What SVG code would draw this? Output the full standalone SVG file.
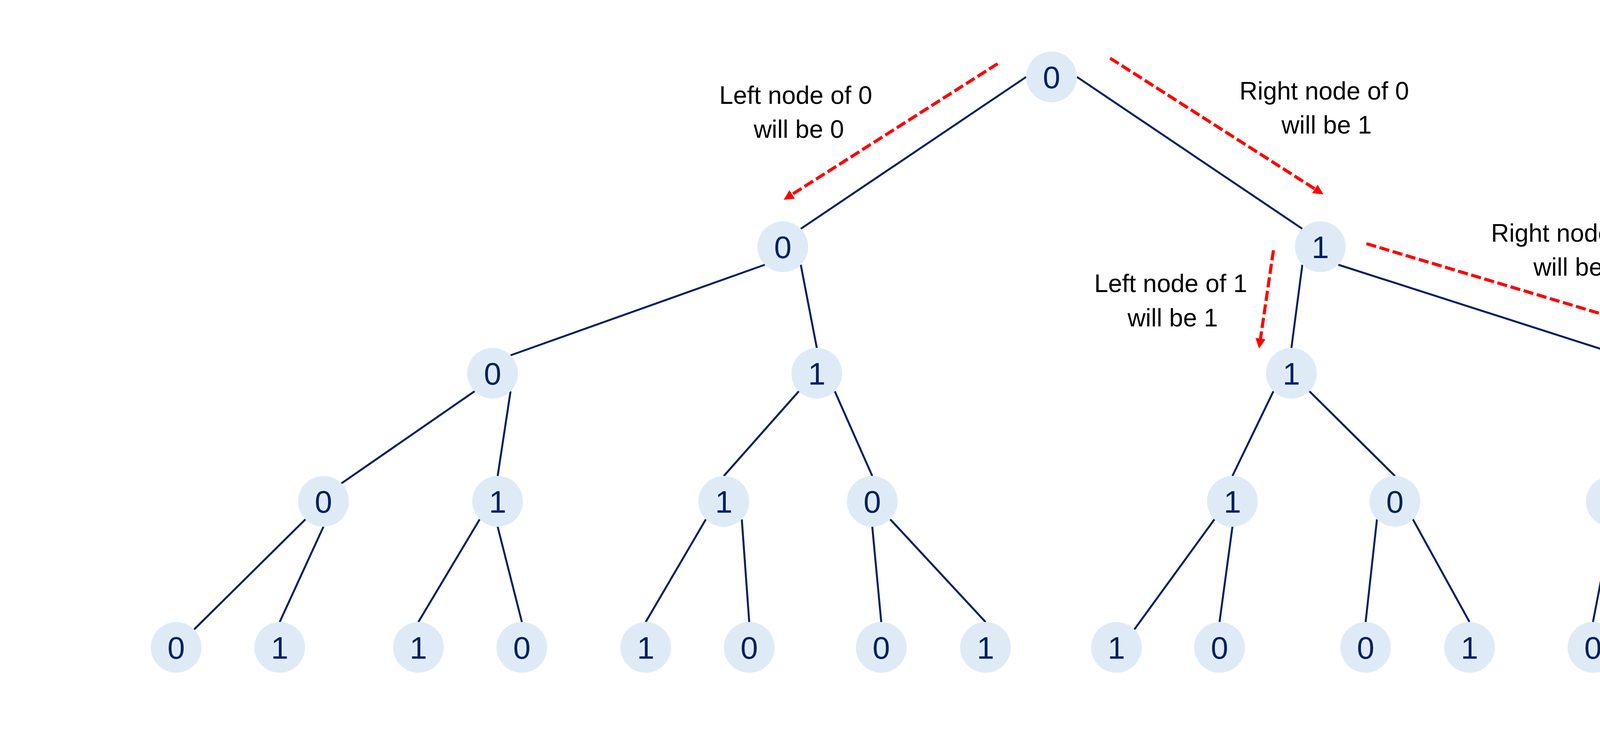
<svg xmlns="http://www.w3.org/2000/svg" width="5372" height="1908" viewBox="0 0 5372 1908">
<style>
.n ellipse{fill:#DEEBF7}
.n text{font-family:"Liberation Sans",Arial,sans-serif;font-size:80px;fill:#002060;text-anchor:middle}
.e line{stroke:#002060;stroke-width:5;fill:none}
.a line{stroke:#FF0000;stroke-width:8;stroke-dasharray:26 9;fill:none;marker-end:url(#ah)}
.lbl{font-family:"Liberation Sans",Arial,sans-serif;font-size:64px;fill:#000;text-anchor:middle}
</style>
<defs>
<marker id="ah" viewBox="0 0 10 10" refX="2.3" refY="5" markerWidth="3.25" markerHeight="3.25" orient="auto" markerUnits="strokeWidth">
<path d="M0,0 L10,5 L0,10 z" fill="#FF0000"/>
</marker>
</defs>
<rect width="5372" height="1908" fill="#FFFFFF"/>
<g id="connectors" class="e">
<line x1="2627" y1="197" x2="2050" y2="586"/>
<line x1="2757" y1="197" x2="3334" y2="586"/>
<line x1="1958" y1="678" x2="1307" y2="910"/>
<line x1="2050" y1="678" x2="2091" y2="891"/>
<line x1="3334" y1="678" x2="3306" y2="891"/>
<line x1="3426" y1="678" x2="4149" y2="910"/>
<line x1="1215" y1="1002" x2="874" y2="1238"/>
<line x1="1307" y1="1002" x2="1274" y2="1219"/>
<line x1="2045" y1="1002" x2="1853" y2="1219"/>
<line x1="2137" y1="1002" x2="2233" y2="1219"/>
<line x1="3260" y1="1002" x2="3155" y2="1219"/>
<line x1="3352" y1="1002" x2="3571" y2="1219"/>
<line x1="4149" y1="1002" x2="4125" y2="1219"/>
<line x1="4241" y1="1002" x2="4567" y2="1219"/>
<line x1="782" y1="1330" x2="497" y2="1612"/>
<line x1="828" y1="1349" x2="716" y2="1593"/>
<line x1="1228" y1="1330" x2="1071" y2="1593"/>
<line x1="1274" y1="1349" x2="1336" y2="1593"/>
<line x1="1807" y1="1330" x2="1653" y2="1593"/>
<line x1="1899" y1="1330" x2="1918" y2="1593"/>
<line x1="2233" y1="1349" x2="2256" y2="1593"/>
<line x1="2279" y1="1330" x2="2523" y2="1593"/>
<line x1="3109" y1="1330" x2="2904" y2="1612"/>
<line x1="3155" y1="1349" x2="3122" y2="1593"/>
<line x1="3525" y1="1330" x2="3496" y2="1593"/>
<line x1="3617" y1="1330" x2="3762" y2="1593"/>
<line x1="4125" y1="1349" x2="4078" y2="1593"/>
<line x1="4171" y1="1330" x2="4344" y2="1593"/>
<line x1="4567" y1="1349" x2="4707" y2="1593"/>
<line x1="4613" y1="1330" x2="4927" y2="1612"/>
</g>
<g id="arrows" class="a">
<line x1="2554" y1="163" x2="2023" y2="501"/>
<line x1="2842" y1="149" x2="3371" y2="487"/>
<line x1="3260" y1="641" x2="3226" y2="873"/>
<line x1="3498" y1="624" x2="4153" y2="820"/>
</g>
<g id="labels">
<text class="lbl" x="2037" y="266">Left node of 0</text>
<text class="lbl" x="2045" y="353">will be 0</text>
<text class="lbl" x="3390" y="255">Right node of 0</text>
<text class="lbl" x="3396" y="342">will be 1</text>
<text class="lbl" x="2997" y="748">Left node of 1</text>
<text class="lbl" x="3002" y="836">will be 1</text>
<text class="lbl" x="4034" y="619">Right node of 1</text>
<text class="lbl" x="4041" y="706">will be 0</text>
</g>
<g id="node-root" class="n"><ellipse cx="2692" cy="197" rx="65" ry="65"/><text x="2692" y="226">0</text></g>
<g id="node-L" class="n"><ellipse cx="2004" cy="632" rx="65" ry="65"/><text x="2004" y="661">0</text></g>
<g id="node-R" class="n"><ellipse cx="3380" cy="632" rx="65" ry="65"/><text x="3380" y="661">1</text></g>
<g id="node-LL" class="n"><ellipse cx="1261" cy="956" rx="65" ry="65"/><text x="1261" y="985">0</text></g>
<g id="node-LR" class="n"><ellipse cx="2091" cy="956" rx="65" ry="65"/><text x="2091" y="985">1</text></g>
<g id="node-RL" class="n"><ellipse cx="3306" cy="956" rx="65" ry="65"/><text x="3306" y="985">1</text></g>
<g id="node-RR" class="n"><ellipse cx="4195" cy="956" rx="65" ry="65"/><text x="4195" y="985">0</text></g>
<g id="node-LLL" class="n"><ellipse cx="828" cy="1284" rx="65" ry="65"/><text x="828" y="1313">0</text></g>
<g id="node-LLR" class="n"><ellipse cx="1274" cy="1284" rx="65" ry="65"/><text x="1274" y="1313">1</text></g>
<g id="node-LRL" class="n"><ellipse cx="1853" cy="1284" rx="65" ry="65"/><text x="1853" y="1313">1</text></g>
<g id="node-LRR" class="n"><ellipse cx="2233" cy="1284" rx="65" ry="65"/><text x="2233" y="1313">0</text></g>
<g id="node-RLL" class="n"><ellipse cx="3155" cy="1284" rx="65" ry="65"/><text x="3155" y="1313">1</text></g>
<g id="node-RLR" class="n"><ellipse cx="3571" cy="1284" rx="65" ry="65"/><text x="3571" y="1313">0</text></g>
<g id="node-RRL" class="n"><ellipse cx="4125" cy="1284" rx="65" ry="65"/><text x="4125" y="1313">0</text></g>
<g id="node-RRR" class="n"><ellipse cx="4567" cy="1284" rx="65" ry="65"/><text x="4567" y="1313">1</text></g>
<g id="leaf-1" class="n"><ellipse cx="451" cy="1658" rx="65" ry="65"/><text x="451" y="1687">0</text></g>
<g id="leaf-2" class="n"><ellipse cx="716" cy="1658" rx="65" ry="65"/><text x="716" y="1687">1</text></g>
<g id="leaf-3" class="n"><ellipse cx="1071" cy="1658" rx="65" ry="65"/><text x="1071" y="1687">1</text></g>
<g id="leaf-4" class="n"><ellipse cx="1336" cy="1658" rx="65" ry="65"/><text x="1336" y="1687">0</text></g>
<g id="leaf-5" class="n"><ellipse cx="1653" cy="1658" rx="65" ry="65"/><text x="1653" y="1687">1</text></g>
<g id="leaf-6" class="n"><ellipse cx="1918" cy="1658" rx="65" ry="65"/><text x="1918" y="1687">0</text></g>
<g id="leaf-7" class="n"><ellipse cx="2256" cy="1658" rx="65" ry="65"/><text x="2256" y="1687">0</text></g>
<g id="leaf-8" class="n"><ellipse cx="2523" cy="1658" rx="65" ry="65"/><text x="2523" y="1687">1</text></g>
<g id="leaf-9" class="n"><ellipse cx="2858" cy="1658" rx="65" ry="65"/><text x="2858" y="1687">1</text></g>
<g id="leaf-10" class="n"><ellipse cx="3122" cy="1658" rx="65" ry="65"/><text x="3122" y="1687">0</text></g>
<g id="leaf-11" class="n"><ellipse cx="3496" cy="1658" rx="65" ry="65"/><text x="3496" y="1687">0</text></g>
<g id="leaf-12" class="n"><ellipse cx="3762" cy="1658" rx="65" ry="65"/><text x="3762" y="1687">1</text></g>
<g id="leaf-13" class="n"><ellipse cx="4078" cy="1658" rx="65" ry="65"/><text x="4078" y="1687">0</text></g>
<g id="leaf-14" class="n"><ellipse cx="4344" cy="1658" rx="65" ry="65"/><text x="4344" y="1687">1</text></g>
<g id="leaf-15" class="n"><ellipse cx="4707" cy="1658" rx="65" ry="65"/><text x="4707" y="1687">1</text></g>
<g id="leaf-16" class="n"><ellipse cx="4973" cy="1658" rx="65" ry="65"/><text x="4973" y="1687">0</text></g>
</svg>
